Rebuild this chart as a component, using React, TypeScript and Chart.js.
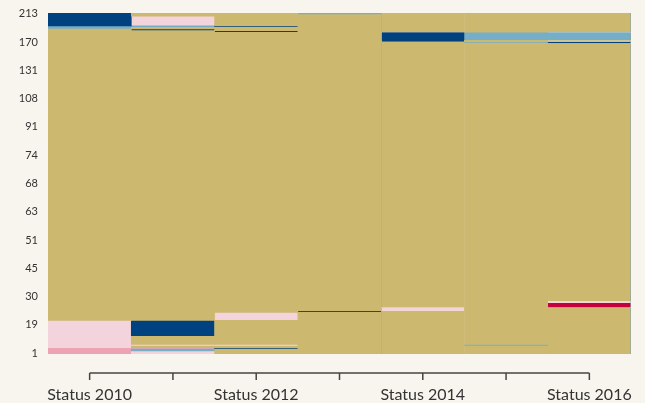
import React, { useEffect, useRef } from 'react';
import { Chart, registerables } from 'chart.js';

Chart.register(...registerables);

// ---- data ----
const categories = ['Status 2010', 'Status 2011', 'Status 2012', 'Status 2013', 'Status 2014', 'Status 2015', 'Status 2016'];
const shownLabels = ['Status 2010', '', 'Status 2012', '', 'Status 2014', '', 'Status 2016'];
const yTickLabels = ['1', '19', '30', '45', '51', '63', '68', '74', '91', '108', '131', '170', '213'];
const rowCount = 213;
const stateNames = ['State A', 'State B', 'State C', 'State D', 'State E', 'State F'];
const stateColors = ['#cdb870', '#00427f', '#74aec8', '#f4d4dc', '#eda3b1', '#c4003d'];

// runs per column: [stateIndex, firstRow, lastRow], rows counted from the bottom
const status2010 = [[4, 1, 4], [3, 5, 21], [0, 22, 203], [2, 204, 205], [1, 206, 213]];
const status2011 = [[3, 1, 2], [2, 3, 3], [4, 4, 4], [0, 5, 5], [3, 6, 6], [0, 7, 11], [1, 12, 21], [0, 22, 202], [1, 203, 203], [0, 204, 204], [2, 205, 205], [3, 206, 211], [0, 212, 213]];
const status2012 = [[0, 1, 3], [1, 4, 4], [0, 5, 5], [3, 6, 6], [0, 7, 21], [3, 22, 26], [0, 27, 201], [1, 202, 202], [0, 203, 204], [1, 205, 205], [0, 206, 213]];
const status2013 = [[0, 1, 26], [5, 27, 27], [0, 28, 212], [2, 213, 213]];
const status2014 = [[0, 1, 27], [3, 28, 29], [0, 30, 195], [1, 196, 201], [0, 202, 213]];
const status2015 = [[0, 1, 5], [2, 6, 6], [0, 7, 194], [2, 195, 195], [0, 196, 196], [2, 197, 201], [0, 202, 213]];
const status2016 = [[0, 1, 29], [5, 30, 32], [3, 33, 33], [0, 34, 194], [1, 195, 195], [0, 196, 196], [2, 197, 201], [0, 202, 213]];
const columns = [status2010, status2011, status2012, status2013, status2014, status2015, status2016];

const BG = '#f8f5ee';
const TEXT = '#333333';

const xAxisLine = {
  id: 'xAxisLine',
  afterDraw(chart: any) {
    const s = chart.scales.x;
    const ctx = chart.ctx;
    const y = s.top + 19;
    const x0 = s.getPixelForTick(0);
    const x1 = s.getPixelForTick(categories.length - 1);
    ctx.save();
    ctx.strokeStyle = '#444444';
    ctx.lineWidth = 1.5;
    ctx.beginPath();
    ctx.moveTo(x0, y);
    ctx.lineTo(x1, y);
    for (let i = 0; i < categories.length; i++) {
      const x = s.getPixelForTick(i);
      ctx.moveTo(x, y);
      ctx.lineTo(x, y + 7);
    }
    ctx.stroke();
    ctx.restore();
  },
};

const noPad = (s: any) => {
  s.paddingLeft = 0;
  s.paddingRight = 0;
  s.paddingTop = 0;
  s.paddingBottom = 0;
};

export default function App() {
  const ref = useRef<HTMLCanvasElement>(null);
  useEffect(() => {
    if (!ref.current) return;
    const datasets = stateNames.map((name, s) => ({
      label: name,
      backgroundColor: stateColors[s],
      data: columns.flatMap((runs, ci) =>
        runs.filter((r) => r[0] === s).map((r) => ({ x: categories[ci], y: [r[1] - 1, r[2]] }))
      ),
      borderWidth: (c: any) => {
        const x = c.raw && c.raw.x;
        if (x === 'Status 2014') return { left: 1, right: 0, top: 0, bottom: 0 };
        if (x === 'Status 2016') return { left: 0, right: 1, top: 0, bottom: 0 };
        return 0;
      },
      borderColor: (c: any) => (c.raw && c.raw.x === 'Status 2014' ? '#c99bc2' : '#8fa3a3'),
      borderSkipped: false,
    }));
    const chart = new Chart(ref.current, {
      type: 'bar',
      data: { labels: categories, datasets: datasets as any },
      options: {
        responsive: false,
        animation: false,
        layout: { padding: { left: 0, right: 14, top: 13, bottom: 0 } },
        datasets: { bar: { grouped: false, categoryPercentage: 1, barPercentage: 1 } } as any,
        plugins: { legend: { display: false }, tooltip: { enabled: false } },
        scales: {
          x: {
            type: 'category',
            offset: true,
            grid: { display: false, drawTicks: false },
            border: { display: false },
            ticks: {
              autoSkip: false,
              maxRotation: 0,
              padding: 31,
              color: TEXT,
              font: { family: 'Lato', size: 16 },
              callback: (_v: any, i: number) => shownLabels[i],
            },
            afterFit: (s: any) => {
              s.height = 49;
              noPad(s);
            },
          },
          y: {
            type: 'linear',
            min: 0,
            max: rowCount,
            grid: { display: false, drawTicks: false },
            border: { display: false },
            ticks: {
              padding: 10,
              color: TEXT,
              autoSkip: false,
              font: { family: 'Lato', size: 11 },
              callback: (_v: any, i: number) => yTickLabels[i],
            },
            afterBuildTicks: (s: any) => {
              s.ticks = yTickLabels.map((_, i) => ({ value: 0.5 + (i * (rowCount - 1)) / (yTickLabels.length - 1) }));
            },
            afterFit: (s: any) => {
              s.width = 48;
              noPad(s);
            },
          },
        },
      } as any,
      plugins: [xAxisLine],
    });
    return () => chart.destroy();
  }, []);
  return (
    <div style={{ position: 'fixed', left: 0, top: 0, width: 645, height: 403, background: BG }}>
      <canvas ref={ref} width={645} height={403} style={{ display: 'block', width: 645, height: 403 }} />
    </div>
  );
}
